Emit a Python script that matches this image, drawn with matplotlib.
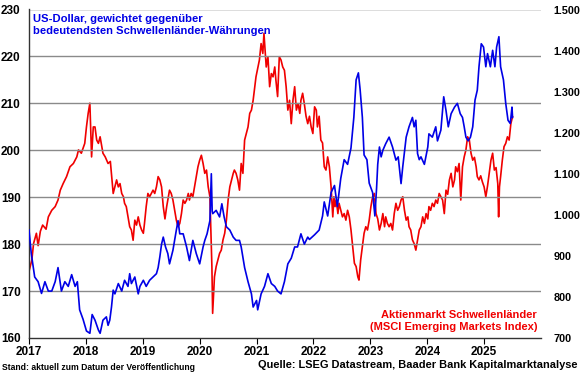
import matplotlib
matplotlib.use("Agg")
import matplotlib.pyplot as plt
from matplotlib.ticker import FuncFormatter, FixedLocator

plt.rcParams['font.family'] = ['Liberation Sans', 'DejaVu Sans']
plt.rcParams['font.weight'] = 'bold'

# --- Data: US-Dollar vs EM currencies (left axis) ---
usd_years = [2017.00, 2017.04, 2017.10, 2017.16, 2017.22, 2017.28, 2017.34, 2017.40, 2017.46, 2017.51,
             2017.57, 2017.63, 2017.69, 2017.75, 2017.81, 2017.85, 2017.89, 2017.95, 2018.01, 2018.07,
             2018.11, 2018.16, 2018.22, 2018.25, 2018.30, 2018.36, 2018.39, 2018.42, 2018.45, 2018.48,
             2018.51, 2018.57, 2018.63, 2018.68, 2018.74, 2018.77, 2018.80, 2018.86, 2018.92, 2018.95,
             2019.01, 2019.06, 2019.12, 2019.18, 2019.24, 2019.27, 2019.30, 2019.33, 2019.36, 2019.40,
             2019.44, 2019.47, 2019.53, 2019.59, 2019.62, 2019.65, 2019.71, 2019.77, 2019.82, 2019.88,
             2019.94, 2020.00, 2020.06, 2020.09, 2020.13, 2020.18, 2020.205, 2020.22, 2020.23, 2020.29,
             2020.35, 2020.39, 2020.43, 2020.47, 2020.53, 2020.59, 2020.64, 2020.70, 2020.73, 2020.79,
             2020.85, 2020.91, 2020.94, 2021.00, 2021.02, 2021.08, 2021.14, 2021.20, 2021.26, 2021.32,
             2021.37, 2021.43, 2021.49, 2021.55, 2021.61, 2021.67, 2021.72, 2021.78, 2021.84, 2021.90,
             2021.93, 2022.02, 2022.10, 2022.16, 2022.19, 2022.25, 2022.31, 2022.37, 2022.42, 2022.48,
             2022.54, 2022.60, 2022.66, 2022.71, 2022.75, 2022.79, 2022.82, 2022.86, 2022.89, 2022.94,
             2022.98, 2023.04, 2023.08, 2023.11, 2023.13, 2023.16, 2023.19, 2023.22, 2023.27, 2023.33,
             2023.39, 2023.45, 2023.49, 2023.54, 2023.57, 2023.63, 2023.68, 2023.74, 2023.77, 2023.80,
             2023.83, 2023.86, 2023.89, 2023.95, 2024.01, 2024.03, 2024.09, 2024.15, 2024.18, 2024.24,
             2024.29, 2024.33, 2024.37, 2024.42, 2024.48, 2024.53, 2024.58, 2024.62, 2024.65, 2024.68,
             2024.72, 2024.76, 2024.80, 2024.84, 2024.88, 2024.91, 2024.95, 2024.99, 2025.03, 2025.06,
             2025.11, 2025.15, 2025.19, 2025.22, 2025.26, 2025.29, 2025.34, 2025.38, 2025.42, 2025.46,
             2025.49, 2025.50]
usd_values = [183.0, 178.0, 173.0, 172.0, 169.5, 172.0, 170.0, 170.0, 172.0, 175.0,
              170.0, 172.0, 171.0, 173.5, 171.0, 172.0, 166.0, 164.0, 161.5, 161.0,
              165.0, 163.8, 161.7, 161.0, 163.8, 164.5, 162.7, 163.8, 166.6, 170.2,
              169.4, 171.6, 170.0, 172.3, 171.0, 173.7, 171.6, 173.0, 169.4, 171.0,
              172.3, 171.0, 172.3, 173.0, 173.7, 175.0, 177.3, 180.0, 181.5, 179.4,
              178.0, 175.8, 178.7, 183.0, 185.0, 182.2, 182.2, 179.4, 176.5, 180.8,
              178.0, 175.8, 179.4, 180.8, 182.2, 185.0, 195.0, 187.0, 186.5, 187.2,
              185.8, 188.6, 185.8, 183.7, 183.0, 181.5, 180.8, 180.8, 179.4, 175.0,
              172.0, 169.4, 166.6, 168.0, 166.0, 169.4, 171.0, 173.7, 171.6, 171.0,
              170.0, 169.4, 172.0, 175.8, 177.0, 179.4, 179.4, 182.2, 180.0, 181.5,
              181.0, 182.0, 183.0, 186.0, 189.0, 186.0, 191.0, 192.5, 188.0, 194.0,
              198.0, 197.0, 200.5, 207.0, 215.0, 216.5, 213.0, 207.0, 199.0, 198.0,
              193.0, 191.0, 186.0, 192.0, 197.0, 200.7, 198.6, 200.0, 201.4, 202.8,
              200.7, 197.9, 198.6, 192.9, 196.5, 202.8, 205.0, 207.0, 205.0, 206.4,
              199.3, 198.0, 198.6, 197.0, 200.7, 203.5, 202.8, 205.0, 202.0, 204.3,
              211.4, 208.5, 205.0, 207.8, 209.2, 210.0, 207.8, 207.0, 205.0, 202.8,
              202.0, 202.8, 205.0, 210.7, 212.8, 217.8, 222.7, 222.0, 217.8, 220.6,
              217.8, 221.3, 217.8, 222.0, 224.2, 217.8, 215.0, 210.0, 206.4, 205.7,
              209.2, 207.0]

# --- Data: MSCI Emerging Markets Index (right axis) ---
msci_years = [2017.00, 2017.05, 2017.08, 2017.13, 2017.16, 2017.20, 2017.24, 2017.30, 2017.34, 2017.40,
              2017.46, 2017.51, 2017.55, 2017.60, 2017.66, 2017.72, 2017.78, 2017.84, 2017.87, 2017.92,
              2017.98, 2018.01, 2018.04, 2018.07, 2018.10, 2018.13, 2018.16, 2018.19, 2018.22, 2018.25,
              2018.28, 2018.30, 2018.34, 2018.39, 2018.43, 2018.48, 2018.51, 2018.54, 2018.57, 2018.60,
              2018.63, 2018.66, 2018.68, 2018.71, 2018.74, 2018.77, 2018.80, 2018.83, 2018.86, 2018.89,
              2018.92, 2018.95, 2018.98, 2019.01, 2019.03, 2019.06, 2019.09, 2019.12, 2019.15, 2019.18,
              2019.21, 2019.24, 2019.27, 2019.30, 2019.33, 2019.36, 2019.39, 2019.42, 2019.45, 2019.47,
              2019.50, 2019.53, 2019.56, 2019.59, 2019.62, 2019.65, 2019.68, 2019.71, 2019.74, 2019.77,
              2019.80, 2019.82, 2019.85, 2019.88, 2019.91, 2019.94, 2019.97, 2020.00, 2020.03, 2020.06,
              2020.09, 2020.12, 2020.15, 2020.18, 2020.19, 2020.215, 2020.228, 2020.245, 2020.26, 2020.29,
              2020.32, 2020.35, 2020.38, 2020.41, 2020.44, 2020.47, 2020.50, 2020.53, 2020.56, 2020.59,
              2020.61, 2020.64, 2020.67, 2020.70, 2020.73, 2020.76, 2020.79, 2020.82, 2020.85, 2020.88,
              2020.91, 2020.94, 2020.99, 2021.05, 2021.08, 2021.11, 2021.13, 2021.15, 2021.17, 2021.20,
              2021.23, 2021.26, 2021.29, 2021.32, 2021.34, 2021.37, 2021.40, 2021.43, 2021.46, 2021.49,
              2021.52, 2021.55, 2021.58, 2021.61, 2021.64, 2021.67, 2021.70, 2021.73, 2021.76, 2021.78,
              2021.81, 2021.84, 2021.87, 2021.90, 2021.93, 2021.96, 2021.99, 2022.02, 2022.05, 2022.07,
              2022.10, 2022.13, 2022.16, 2022.19, 2022.22, 2022.25, 2022.28, 2022.31, 2022.34, 2022.36,
              2022.38, 2022.40, 2022.43, 2022.45, 2022.48, 2022.51, 2022.54, 2022.57, 2022.60, 2022.63,
              2022.66, 2022.69, 2022.72, 2022.75, 2022.78, 2022.80, 2022.83, 2022.86, 2022.89, 2022.92,
              2022.95, 2022.98, 2023.01, 2023.04, 2023.07, 2023.10, 2023.13, 2023.16, 2023.19, 2023.22,
              2023.25, 2023.27, 2023.30, 2023.33, 2023.36, 2023.39, 2023.42, 2023.45, 2023.48, 2023.51,
              2023.54, 2023.57, 2023.60, 2023.63, 2023.66, 2023.68, 2023.71, 2023.74, 2023.77, 2023.80,
              2023.83, 2023.86, 2023.89, 2023.92, 2023.95, 2023.98, 2024.01, 2024.03, 2024.06, 2024.09,
              2024.12, 2024.15, 2024.18, 2024.21, 2024.24, 2024.27, 2024.30, 2024.33, 2024.36, 2024.39,
              2024.42, 2024.45, 2024.48, 2024.50, 2024.53, 2024.56, 2024.59, 2024.62, 2024.65, 2024.68,
              2024.71, 2024.74, 2024.77, 2024.80, 2024.83, 2024.86, 2024.88, 2024.91, 2024.94, 2024.97,
              2025.00, 2025.03, 2025.06, 2025.09, 2025.12, 2025.15, 2025.18, 2025.21, 2025.24, 2025.255,
              2025.27, 2025.29, 2025.32, 2025.35, 2025.38, 2025.41, 2025.44, 2025.47, 2025.50]
msci_values = [862, 890, 930, 955, 925, 960, 975, 965, 995, 1011,
               1020, 1036, 1060, 1076, 1093, 1117, 1125, 1141, 1158, 1150,
               1174, 1214, 1247, 1272, 1141, 1214, 1214, 1182, 1174, 1190,
               1166, 1150, 1141, 1125, 1130, 1052, 1068, 1085, 1068, 1076,
               1052, 1044, 1028, 1020, 995, 971, 963, 938, 987, 975,
               995, 975, 963, 955, 979, 1020, 1052, 1044, 1052, 1060,
               1052, 1068, 1093, 1085, 1068, 1020, 990, 1020, 1044, 1060,
               1052, 1036, 1011, 987, 971, 979, 1003, 1036, 1028, 1036,
               1052, 1036, 1052, 1044, 1068, 1093, 1117, 1133, 1145, 1125,
               1101, 1109, 1068, 1044, 995, 874, 760, 809, 849, 874,
               890, 906, 914, 939, 955, 987, 1036, 1068, 1085, 1101,
               1109, 1101, 1085, 1060, 1125, 1101, 1182, 1198, 1214, 1247,
               1255, 1279, 1336, 1377, 1417, 1393, 1442, 1401, 1360, 1385,
               1312, 1344, 1336, 1360, 1328, 1288, 1385, 1377, 1360, 1352,
               1312, 1255, 1279, 1222, 1279, 1312, 1255, 1271, 1247, 1279,
               1296, 1270, 1240, 1222, 1240, 1214, 1198, 1263, 1255, 1214,
               1240, 1182, 1175, 1117, 1109, 1141, 1117, 1068, 995, 1044,
               1020, 1036, 1003, 1028, 1011, 995, 1003, 987, 1011, 995,
               963, 922, 882, 874, 849, 841, 890, 922, 955, 971,
               963, 987, 1020, 1044, 1052, 1003, 990, 963, 979, 1003,
               971, 995, 979, 971, 979, 963, 1003, 1028, 1011, 1020,
               1036, 1044, 1011, 987, 995, 971, 963, 939, 930, 914,
               939, 963, 971, 995, 979, 1003, 990, 1020, 1011, 1028,
               1020, 1036, 1028, 1052, 1044, 1036, 1003, 1060, 1050, 1085,
               1101, 1068, 1085, 1117, 1105, 1125, 1036, 1117, 1141, 1158,
               1190, 1182, 1150, 1133, 1140, 1117, 1093, 1085, 1095, 1080,
               1068, 1044, 1070, 1101, 1133, 1150, 1109, 1115, 1076, 995,
               1068, 1093, 1133, 1166, 1174, 1190, 1182, 1222, 1239]

left_ticks = [160, 170, 180, 190, 200, 210, 220, 230]
right_ticks = [700, 800, 900, 1000, 1100, 1200, 1300, 1400, 1500]
year_ticks = [2017, 2018, 2019, 2020, 2021, 2022, 2023, 2024, 2025]

BLUE = '#0000E6'
RED = '#F00000'

fig = plt.figure(figsize=(5.8, 3.75), dpi=100)
ax = fig.add_axes([29/580, 1-338/375, (541-29)/580, (338-9.5)/375])
ax2 = ax.twinx()

ax.set_xlim(2017, 2026)
ax.set_ylim(160, 230)
ax2.set_ylim(700, 1500)

for v in left_ticks[1:-1]:
    ax.axhline(v, color='#8a8a8a', lw=1.0, zorder=0)
ax.axhline(230, color='#555555', lw=1.0, zorder=0)

ax2.plot(msci_years, msci_values, color=RED, lw=1.2, zorder=2)
ax.plot(usd_years, usd_values, color=BLUE, lw=1.2, zorder=3)
ax.set_zorder(ax2.get_zorder() + 1)
ax.patch.set_visible(False)

ax.yaxis.set_major_locator(FixedLocator(left_ticks))
ax2.yaxis.set_major_locator(FixedLocator(right_ticks))
ax.xaxis.set_major_locator(FixedLocator(year_ticks))
ax.set_xticklabels([str(y) for y in year_ticks])
ax2.yaxis.set_major_formatter(FuncFormatter(lambda v, p: f"{int(v):,}".replace(",", ".")))

ax.tick_params(axis='y', length=0, pad=6, labelsize=8.5)
ax.tick_params(axis='x', length=4, width=0.8, direction='out', pad=2, labelsize=8.5)
ax2.tick_params(axis='y', length=0, pad=9, labelsize=7.8)
for lab in ax.get_xticklabels() + ax.get_yticklabels() + ax2.get_yticklabels():
    lab.set_fontweight('bold')

for a in (ax, ax2):
    a.spines['top'].set_visible(False)
    a.spines['right'].set_visible(False)
ax2.spines['left'].set_visible(False)
ax2.spines['bottom'].set_visible(False)
ax.spines['left'].set_color('#333333')
ax.spines['bottom'].set_color('#333333')
ax.spines['left'].set_linewidth(1.0)
ax.spines['bottom'].set_linewidth(1.0)

fig.text(33/580, 1-25/375, "US-Dollar, gewichtet gegenüber\nbedeutendsten Schwellenländer-Währungen",
         color=BLUE, fontsize=8.1, fontweight='bold', ha='left', va='center', linespacing=1.2)
fig.text(537/580, 1-321/375, "Aktienmarkt Schwellenländer\n(MSCI Emerging Markets Index)",
         color=RED, fontsize=8.0, fontweight='bold', ha='right', va='center', linespacing=1.2,
         multialignment='right')
fig.text(2/580, 1-367.5/375, "Stand: aktuell zum Datum der Veröffentlichung",
         color='black', fontsize=6.2, fontweight='bold', ha='left', va='center')
fig.text(578/580, 1-365/375, "Quelle: LSEG Datastream, Baader Bank Kapitalmarktanalyse",
         color='black', fontsize=7.95, fontweight='bold', ha='right', va='center')

fig.savefig('out.png', dpi=100)
